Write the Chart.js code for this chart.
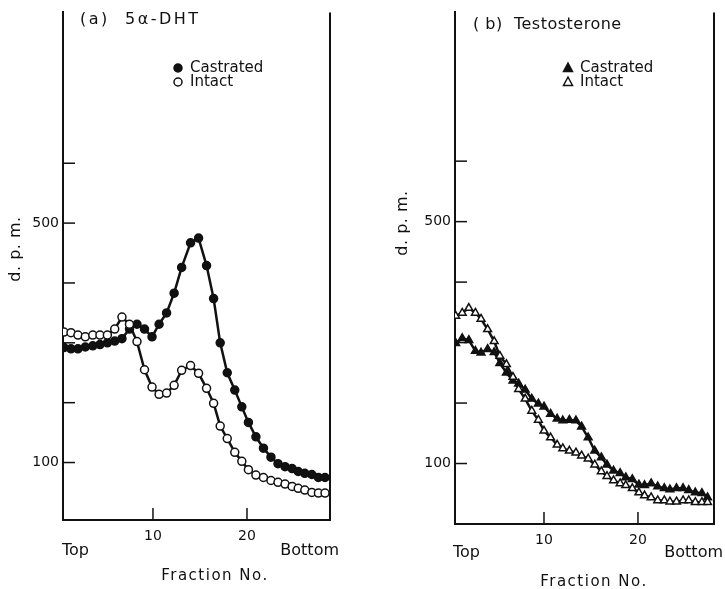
<!DOCTYPE html>
<html>
<head>
<meta charset="utf-8">
<title>5α-DHT / Testosterone</title>
<script src="https://cdn.jsdelivr.net/npm/chart.js@4.4.0/dist/chart.umd.min.js"></script>
<style>
  html, body { margin: 0; padding: 0; background: #fff; }
  #wrap { position: relative; width: 725px; height: 589px; }
  #leftChart { position: absolute; left: 0; top: 0; }
  #rightChart { position: absolute; left: 360px; top: 0; }
</style>
</head>
<body>
<div id="wrap">
  <canvas id="leftChart" width="360" height="589"></canvas>
  <canvas id="rightChart" width="365" height="589"></canvas>
</div>
<script>
// ---- data ----
// (a) 5a-DHT
const dhtFractions = [0.53, 1.28, 2.02, 2.8, 3.6, 4.36, 5.15, 5.93, 6.7, 7.5, 8.3, 9.1, 9.9,
  10.65, 11.45, 12.25, 13.05, 14.0, 14.85, 15.7, 16.45, 17.15, 17.9, 18.7, 19.45, 20.15,
  20.95, 21.75, 22.55, 23.3, 24.05, 24.8, 25.45, 26.15, 26.9, 27.6, 28.3];
const dhtCastrated = [292, 290, 290, 293, 295, 297, 300, 303, 307, 323, 331, 323, 310,
  331, 350, 383, 426, 467, 475, 429, 374, 300, 250, 221, 193, 167,
  143, 124, 109, 98, 93, 90, 85, 82, 80, 75, 75];
const dhtIntact = [318, 317, 313, 310, 313, 313, 313, 323, 343, 331, 302, 255, 226,
  214, 216, 229, 254, 262, 249, 224, 199, 161, 140, 117, 102, 88,
  79, 75, 70, 67, 64, 60, 57, 54, 50, 49, 49];

// (b) Testosterone
const testoFractions = [0.6, 1.3, 2.0, 2.7, 3.3, 4.0, 4.7, 5.3, 6.0, 6.7, 7.3, 8.0, 8.7,
  9.4, 10.0, 10.7, 11.4, 12.0, 12.7, 13.4, 14.0, 14.7, 15.4, 16.1, 16.7, 17.4, 18.1,
  18.7, 19.4, 20.1, 20.7, 21.4, 22.1, 22.8, 23.4, 24.1, 24.8, 25.4, 26.1, 26.8, 27.4];
const testoCastrated = [299, 307, 304, 286, 283, 289, 284, 266, 250, 237, 232, 222, 207,
  199, 194, 182, 174, 171, 172, 171, 161, 143, 121, 110, 98, 88, 84,
  77, 74, 65, 64, 67, 62, 59, 57, 59, 59, 56, 52, 51, 44];
const testoIntact = [344, 349, 357, 349, 339, 322, 302, 278, 264, 243, 223, 207, 187,
  172, 154, 143, 131, 125, 121, 118, 113, 108, 98, 87, 79, 72, 67,
  64, 59, 52, 47, 44, 39, 39, 37, 37, 39, 39, 36, 36, 36];

// axis ticks
const yTickValues = [100, 200, 300, 400, 500, 600];
const yTickLabels = [100, 500];
const xTickValues = [10, 20];

// ==========================================
// helpers
// ==========================================
const INK = "#111";
Chart.defaults.font.family = "'DejaVu Sans', sans-serif";
Chart.defaults.color = INK;

function toPoints(xs, ys) {
  return xs.map((x, i) => ({ x: x, y: ys[i] }));
}

function drawMarker(ctx, kind, filled, x, y) {
  ctx.beginPath();
  if (kind === "circle") {
    ctx.arc(x, y, 4, 0, Math.PI * 2);
  } else {
    ctx.moveTo(x, y - 5);
    ctx.lineTo(x + 4.5, y + 3.5);
    ctx.lineTo(x - 4.5, y + 3.5);
    ctx.closePath();
  }
  ctx.fillStyle = filled ? INK : "#fff";
  ctx.fill();
  ctx.lineWidth = 1.5;
  ctx.strokeStyle = INK;
  ctx.stroke();
}

function text(ctx, str, x, y, size, align, spacing) {
  ctx.font = size + "px 'DejaVu Sans', sans-serif";
  ctx.textAlign = align;
  ctx.textBaseline = "middle";
  ctx.letterSpacing = (spacing || 0) + "px";
  ctx.fillStyle = INK;
  ctx.fillText(str, x, y);
  ctx.letterSpacing = "0px";
}

// frame, inner tick marks, panel title, legend and axis words
function decorPlugin(cfg) {
  return {
    id: "decor",
    afterDraw(chart) {
      const ctx = chart.ctx;
      const a = chart.chartArea;
      const xs = chart.scales.x;
      const ys = chart.scales.y;
      ctx.save();
      ctx.strokeStyle = INK;
      ctx.lineWidth = 2;
      ctx.beginPath();
      ctx.moveTo(a.right, a.top);
      ctx.lineTo(a.right, a.bottom + 1);
      ctx.stroke();

      ctx.lineWidth = 1.5;
      yTickValues.forEach((v) => {
        const py = ys.getPixelForValue(v);
        ctx.beginPath();
        ctx.moveTo(a.left, py);
        ctx.lineTo(a.left + 12, py);
        ctx.stroke();
      });
      xTickValues.forEach((v) => {
        const px = xs.getPixelForValue(v);
        ctx.beginPath();
        ctx.moveTo(px, a.bottom);
        ctx.lineTo(px, a.bottom - 12);
        ctx.stroke();
      });

      text(ctx, cfg.title, cfg.titleX, cfg.titleY, 16, "left", cfg.titleSpacing);

      drawMarker(ctx, cfg.marker, true, cfg.legendX, cfg.legendY);
      drawMarker(ctx, cfg.marker, false, cfg.legendX, cfg.legendY + 14);
      text(ctx, "Castrated", cfg.legendX + 12, cfg.legendY, 15, "left", 0);
      text(ctx, "Intact", cfg.legendX + 12, cfg.legendY + 14, 15, "left", 0);

      text(ctx, "Top", cfg.topX, cfg.wordsY, 16, "left", 0);
      text(ctx, "Bottom", cfg.bottomX, cfg.wordsY, 16, "right", 0);
      text(ctx, "Fraction No.", cfg.fracX, cfg.fracY, 15, "center", 1.5);

      ctx.translate(cfg.dpmX, cfg.dpmY);
      ctx.rotate(-Math.PI / 2);
      text(ctx, "d. p. m.", 0, 0, 16, "center", 0.5);
      ctx.restore();
    },
  };
}

function makePanel(canvasId, fractions, castrated, intact, marker, geo, cfg) {
  const ctx = document.getElementById(canvasId);
  const common = {
    borderColor: INK,
    borderWidth: 2.5,
    pointStyle: marker,
    pointRadius: marker === "triangle" ? 4.5 : 4,
    pointBorderColor: INK,
    pointBorderWidth: 1.5,
    tension: 0,
  };
  return new Chart(ctx, {
    type: "line",
    data: {
      datasets: [
        Object.assign({ label: "Intact", data: toPoints(fractions, intact), pointBackgroundColor: "#fff" }, common),
        Object.assign({ label: "Castrated", data: toPoints(fractions, castrated), pointBackgroundColor: INK }, common),
      ],
    },
    options: {
      responsive: false,
      animation: false,
      devicePixelRatio: 1,
      layout: { padding: { top: geo.top, right: geo.right, left: 0, bottom: 0 } },
      plugins: { legend: { display: false }, tooltip: { enabled: false } },
      scales: {
        x: {
          type: "linear",
          min: geo.xMin,
          max: geo.xMax,
          afterFit: (s) => { s.height = geo.xHeight; },
          afterBuildTicks: (s) => { s.ticks = xTickValues.map((v) => ({ value: v })); },
          grid: { display: false, drawTicks: false },
          border: { display: true, color: INK, width: 2 },
          ticks: { padding: 8, font: { size: 14 }, color: INK },
        },
        y: {
          type: "linear",
          min: geo.yMin,
          max: geo.yMax,
          afterFit: (s) => { s.width = geo.yWidth; },
          afterBuildTicks: (s) => { s.ticks = yTickValues.map((v) => ({ value: v })); },
          grid: { display: false, drawTicks: false },
          border: { display: true, color: INK, width: 2 },
          ticks: {
            padding: 4,
            font: { size: 14 },
            color: INK,
            callback: (v) => (yTickLabels.includes(v) ? String(v) : ""),
          },
        },
      },
    },
    plugins: [decorPlugin(cfg)],
  });
}

document.addEventListener("DOMContentLoaded", () => {
  makePanel("leftChart", dhtFractions, dhtCastrated, dhtIntact, "circle",
    { top: 7, right: 30, xHeight: 69, yWidth: 63, xMin: 0.43, xMax: 28.83, yMin: 4, yMax: 852 },
    {
      marker: "circle", title: "(a)  5α-DHT", titleX: 80, titleY: 20, titleSpacing: 2.5,
      legendX: 178, legendY: 68, topX: 62, bottomX: 339, wordsY: 551,
      fracX: 215, fracY: 576, dpmX: 16, dpmY: 249,
    });
  makePanel("rightChart", testoFractions, testoCastrated, testoIntact, "triangle",
    { top: 10, right: 11, xHeight: 65, yWidth: 95, xMin: 0.53, xMax: 28.09, yMin: 0, yMax: 846 },
    {
      marker: "triangle", title: "( b)  Testosterone", titleX: 113, titleY: 25, titleSpacing: 0.5,
      legendX: 208, legendY: 68, topX: 93, bottomX: 363, wordsY: 553,
      fracX: 234, fracY: 582, dpmX: 43, dpmY: 223,
    });
});
</script>
</body>
</html>
